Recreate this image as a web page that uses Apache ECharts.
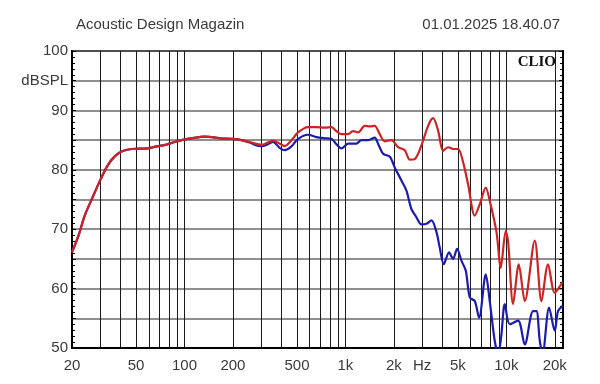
<!DOCTYPE html>
<html>
<head>
<meta charset="utf-8">
<script src="https://cdn.jsdelivr.net/npm/echarts@6/dist/echarts.min.js"></script>
<style>html,body{margin:0;padding:0;background:#fff}#c{width:600px;height:384px}</style>
</head>
<body>
<div id="c"></div>
<script>
// ---- data ----
const titleLeft = 'Acoustic Design Magazin';
const titleRight = '01.01.2025 18.40.07';
const brand = 'CLIO';

const gridFreqs = [20,30,40,50,60,70,80,90,100,200,300,400,500,600,700,800,900,1000,
  2000,3000,4000,5000,6000,7000,8000,9000,10000,20000];
const xLabelFreqs = [20,50,100,200,500,1000,2000,3000,5000,10000,20000];
const xLabelTexts = ['20','50','100','200','500','1k','2k','Hz','5k','10k','20k'];
const yLabelValues = [100,95,90,80,70,60,50];
const yLabelTexts = ['100','dBSPL','90','80','70','60','50'];

const redFreq = [20,22,24,27,30,33.4,37,40.6,46.8,59,66,76,85,96,110,134,170,200,226,260,301,330,355,385,420,460,508,586,660,744,819,880,944,1040,1115,1200,1319,1417,1521,1634,1755,1932,2125,2339,2513,2698,2967,3265,3508,3767,4047,4346,4668,5014,5385,5783,6367,6839,7450,7888,8688,9237,9913,10254,11019,11950,13020,15026,16530,18160,20000,22030,22500];
const redDb = [66.1,69,72.3,75.5,78.3,80.8,82.3,83.1,83.5,83.6,83.9,84.2,84.6,85.0,85.3,85.6,85.3,85.2,85.0,84.6,84.2,84.6,84.9,84.5,84.0,84.9,86.3,87.2,87.2,87.1,87.2,86.5,86.0,86.0,86.5,86.3,87.4,87.3,87.4,86.0,84.8,85.0,83.8,83.3,81.7,81.8,84.1,87.4,88.7,86.6,83.2,83.8,83.5,83.5,81.3,77.6,72.3,74.2,77.0,74.8,69.5,63.5,69.7,68.0,57.4,64.1,57.9,68.1,57.9,64.1,59.3,60.8,61.0];

const blueFreq = [20,22,24,27,30,33.4,37,40.6,46.8,59,66,76,85,96,110,134,170,200,226,260,280,301,330,355,390,420,460,508,586,660,744,819,880,944,1040,1170,1257,1383,1521,1596,1714,1888,2026,2229,2395,2572,2763,2967,3191,3428,3681,3856,4084,4406,4668,4945,5262,5600,5929,6367,6773,7450,7888,8474,8900,9300,9780,10500,11830,13020,14660,15380,16140,16800,18440,20000,20950,22400];
const blueDb = [66.1,69,72.3,75.5,78.3,80.8,82.3,83.1,83.5,83.6,83.9,84.2,84.6,85.0,85.3,85.6,85.3,85.2,85.0,84.5,84.1,84.0,84.3,84.7,83.7,83.3,83.9,85.2,85.9,85.5,85.3,85.2,84.3,83.6,84.4,84.4,85.0,85.0,85.4,84.4,82.7,82.2,80.4,78.2,76.5,73.4,72.0,70.8,70.9,71.5,69.5,66.9,64.1,66.1,65.0,66.7,64.7,63.0,58.5,57.9,55.1,62.4,57.9,51.2,49.0,52.0,57.4,54.0,54.6,50.6,56.2,56.2,51.2,49.0,56.8,52.9,56.2,57.1];

const xMinF = 20, xMaxF = 22500;
const yMin = 50, yMax = 100, yStep = 5;

// ---- chart ----
const L = Math.log10;
const toPairs = (fs, vs) => fs.map((f, i) => [L(f), vs[i]]);
const font = '"Liberation Sans", Arial, sans-serif';
const textColor = '#3a3a3a';

const yAxisBase = {
  type: 'value', min: yMin, max: yMax, interval: yStep,
  axisLine: { show: true, lineStyle: { color: '#000', width: 2 } },
  axisTick: { show: true, inside: true, length: 4, lineStyle: { color: '#000', width: 1 } },
  minorTick: { show: true, splitNumber: 5, length: 3, lineStyle: { color: '#000', width: 1 } }
};

const chart = echarts.init(document.getElementById('c'), null, { renderer: 'canvas' });
chart.setOption({
  animation: false,
  backgroundColor: '#fff',
  title: [
    { text: titleLeft, left: 71, top: 12, textStyle: { fontFamily: font, fontSize: 15, fontWeight: 'normal', color: textColor } },
    { text: titleRight, right: 35, top: 12, textStyle: { fontFamily: font, fontSize: 15, fontWeight: 'normal', color: textColor } },
    { text: brand, right: 39, top: 50, textStyle: { fontFamily: '"Liberation Serif", "Times New Roman", serif', fontSize: 15, fontWeight: 'bold', color: '#111' } }
  ],
  grid: { left: 72, right: 37, top: 51, bottom: 36, show: true, borderColor: '#000', borderWidth: 2, backgroundColor: 'transparent' },
  xAxis: {
    type: 'value', min: L(xMinF), max: L(xMaxF),
    axisLine: { show: true, lineStyle: { color: '#000', width: 2 } },
    axisTick: { show: false, customValues: gridFreqs.map(L) },
    splitLine: { show: true, lineStyle: { color: '#1a1a1a', width: 1 } },
    axisLabel: {
      customValues: xLabelFreqs.map(L), margin: 10,
      fontFamily: font, fontSize: 15, color: textColor,
      formatter: v => { const i = xLabelFreqs.findIndex(f => Math.abs(L(f) - v) < 1e-6); return i >= 0 ? xLabelTexts[i] : ''; }
    }
  },
  yAxis: [
    Object.assign({}, yAxisBase, {
      position: 'left',
      splitLine: { show: true, lineStyle: { color: '#6a6a6a', width: 1.5 } },
      axisLabel: {
        margin: 4, fontFamily: font, fontSize: 15, color: textColor,
        formatter: v => { const i = yLabelValues.indexOf(v); return i >= 0 ? yLabelTexts[i] : ''; }
      }
    }),
    Object.assign({}, yAxisBase, {
      position: 'right',
      splitLine: { show: false },
      axisLabel: { show: false }
    })
  ],
  series: [
    { type: 'line', name: 'blue', data: toPairs(blueFreq, blueDb), showSymbol: false, smooth: 0.3, clip: true,
      lineStyle: { color: '#1c1caa', width: 2.2 } },
    { type: 'line', name: 'red', data: toPairs(redFreq, redDb), showSymbol: false, smooth: 0.3, clip: true,
      lineStyle: { color: '#cc2424', width: 2.2 } }
  ]
});
</script>
</body>
</html>
